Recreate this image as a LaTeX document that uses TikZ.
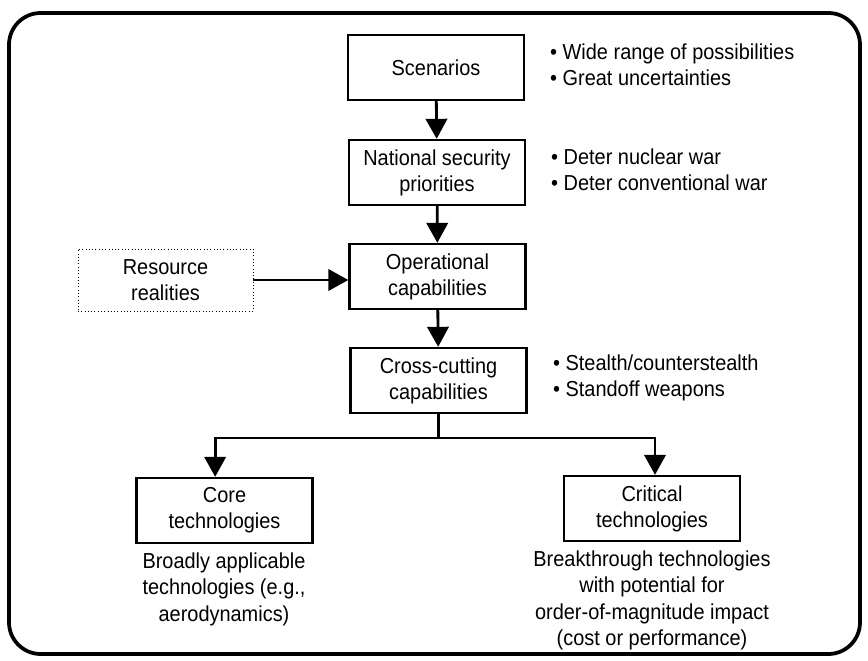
\documentclass[tikz,border=0pt]{standalone}
\usepackage{fontspec}
\setmainfont[FakeStretch=0.92]{Liberation Sans}
\usetikzlibrary{arrows.meta}

\tikzset{
  box/.style={draw, line width=2pt, minimum width=5.28cm, minimum height=1.95cm, align=center},
  resbox/.style={draw, dotted, line width=0.8pt, minimum width=5.25cm, minimum height=1.86cm, align=center},
  arr/.style={line width=2.4pt, -{Triangle[length=0.6cm,width=0.64cm]}},
  joint/.style={line width=2.4pt},
  notes/.style={align=left, anchor=west},
  below note/.style={align=center, anchor=north}
}
\newcommand{\itm}{\textbullet\ }

\begin{document}
\begin{tikzpicture}[x=0.3mm, y=-0.3mm, font=\fontsize{18.5}{22.3}\selectfont]
            \useasboundingbox (0,0) rectangle (868,660);
            % Frame
            \draw[line width=3.2pt, rounded corners=0.95cm] (9,13) rectangle (860,654);
            % Boxes
            \node[box] (scen) at (436,67.5) {Scenarios};
            \node[box] (natsec) at (437,172.5) {National security\\priorities};
            \node[box] (oper) at (437.5,276.5) {Operational\\capabilities};
            \node[resbox] (resource) at (165.5,280) {Resource\\realities};
            \node[box] (cross) at (438.5,380.5) {Cross-cutting\\capabilities};
            \node[box] (core) at (224.5,510.5) {Core\\technologies};
            \node[box] (crit) at (652,508.5) {Critical\\technologies};
            % Bullet lists
            \node[notes] (scenlist) at (546,65) {\itm Wide range of possibilities\\\itm Great uncertainties};
            \node[notes] (natlist) at (547,170) {\itm Deter nuclear war\\\itm Deter conventional war};
            \node[notes] (crosslist) at (549,377.5) {\itm Stealth/counterstealth\\\itm Standoff weapons};
            % Notes under boxes
            \node[below note] (corenote) at (224,549) {Broadly applicable\\technologies (e.g.,\\aerodynamics)};
            \node[below note] (critnote) at (652,547) {Breakthrough technologies\\with potential for\\order-of-magnitude impact\\(cost or performance)};
            % Arrows
            \draw[arr] (scen) -- (natsec);
            \draw[arr] (natsec) -- (oper);
            \draw[arr] (resource) -- (resource -| oper.west);
            \draw[arr] (oper) -- (cross);
            \coordinate (split) at (438.5,438);
            \draw[joint] (cross) -- (split);
            \draw[arr] (split) -| ([xshift=-0.28cm]core.north);
            \draw[arr] (split) -| ([xshift=0.09cm]crit.north);
        \end{tikzpicture}
\end{document}
